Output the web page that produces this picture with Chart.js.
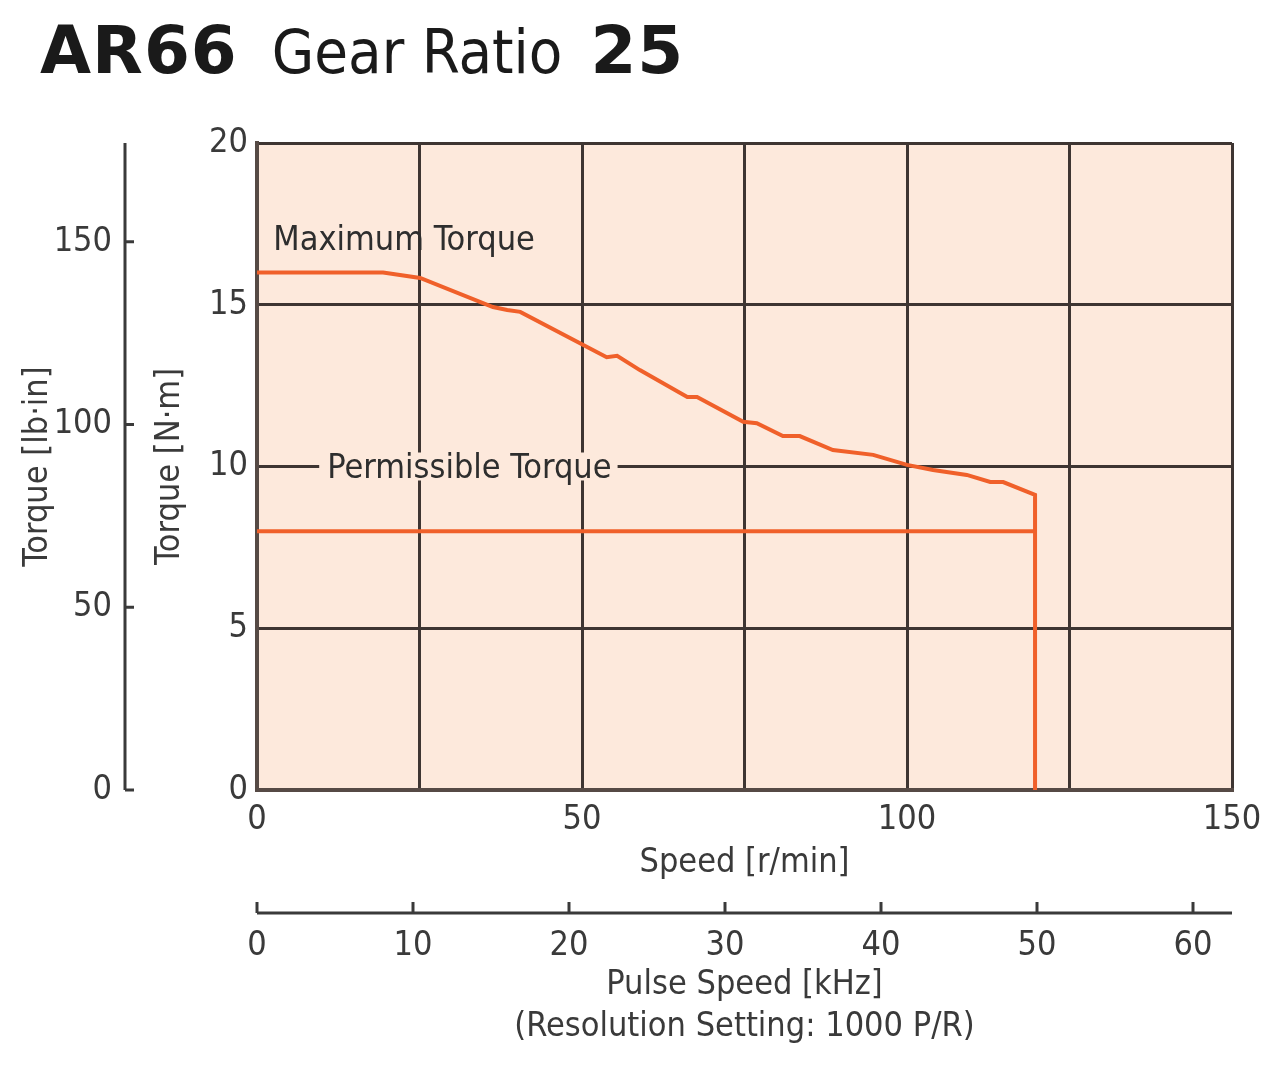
<!DOCTYPE html>
<html>
<head>
<meta charset="utf-8">
<script src="https://cdn.jsdelivr.net/npm/chart.js@4.4.1/dist/chart.umd.min.js"></script>
<style>
  html, body { margin: 0; padding: 0; background: #fff; }
  #wrap { position: relative; width: 1280px; height: 1069px; }
  #title { position: absolute; left: 40px; top: 12px; font-size: 66px; color: #1a1a1a; white-space: nowrap; }
  #title .b { font-family: "DejaVu Sans", sans-serif; font-weight: bold; letter-spacing: 1px; }
  #title .n { font-family: "Liberation Sans Narrow", "DejaVu Sans Condensed", sans-serif; font-size: 61px; margin: 0 28px 0 34px; }
  canvas { position: absolute; left: 0; top: 0; }
</style>
</head>
<body>
<div id="wrap">
  <div id="title"><span class="b">AR66</span><span class="n">Gear Ratio</span><span class="b">25</span></div>
  <canvas id="chart" width="1280" height="1069"></canvas>
</div>
<script>
// Données
const maxSpeed = [0, 19.4, 25.1, 36.3, 38.5, 40.5, 53.8, 55.4, 58.9, 66.2, 67.7, 74.8, 76.9, 80.9, 83.5, 88.6, 94.8, 100, 104, 109.2, 112.8, 114.8, 119.7, 119.7];
const maxTorque = [16.0, 16.0, 15.83, 14.93, 14.84, 14.78, 13.38, 13.42, 12.98, 12.15, 12.15, 11.38, 11.34, 10.94, 10.94, 10.51, 10.36, 10.05, 9.89, 9.74, 9.52, 9.52, 9.12, 0];
const permSpeed = [0, 119.7];
const permTorque = [8.0, 8.0];

const speedTicks = [0, 50, 100, 150];
const pulseTicks = [0, 10, 20, 30, 40, 50, 60];
const lbinTicks = [0, 50, 100, 150];
const NM_TO_LBIN = 8.851;

const orange = '#f0602a';
const gridColor = '#3e3532';
const borderColor = '#564a45';
const plotBg = '#fde9dc';
const textColor = '#3a3a3a';
const narrow = '"Liberation Sans Narrow", "DejaVu Sans Condensed", sans-serif';

const toPoints = (xs, ys) => xs.map((x, i) => ({ x: x, y: ys[i] }));

// Fond de la zone de tracé, axe lb-in, graduations de l'axe des impulsions et étiquettes
const decorations = {
  id: 'decorations',
  beforeDraw(chart) {
    const { ctx, chartArea } = chart;
    ctx.save();
    ctx.fillStyle = plotBg;
    ctx.fillRect(chartArea.left, chartArea.top, chartArea.right - chartArea.left, chartArea.bottom - chartArea.top);
    ctx.restore();
  },
  afterDraw(chart) {
    const { ctx, scales } = chart;
    ctx.save();
    ctx.strokeStyle = '#3a3a3a';
    ctx.lineWidth = 3;

    // axe lb-in
    const lb = scales.yLb;
    const lx = lb.right - 10;
    ctx.beginPath();
    ctx.moveTo(lx, lb.getPixelForValue(lb.max));
    ctx.lineTo(lx, lb.getPixelForValue(0));
    ctx.stroke();
    lbinTicks.forEach(v => {
      const py = lb.getPixelForValue(v);
      ctx.beginPath();
      ctx.moveTo(lx, py);
      ctx.lineTo(lx + 9, py);
      ctx.stroke();
    });

    // axe des impulsions
    const p = scales.x2;
    ctx.beginPath();
    ctx.moveTo(p.left, p.top);
    ctx.lineTo(scales.x.right, p.top);
    ctx.stroke();
    pulseTicks.forEach(v => {
      const px = p.getPixelForValue(v);
      ctx.beginPath();
      ctx.moveTo(px, p.top);
      ctx.lineTo(px, p.top - 11);
      ctx.stroke();
    });

    // étiquettes des courbes
    const x = scales.x, y = scales.y;
    ctx.font = '34px ' + narrow;
    ctx.textBaseline = 'middle';
    ctx.textAlign = 'left';
    ctx.fillStyle = '#2e2e2e';
    ctx.fillText('Maximum Torque', x.getPixelForValue(2.5), y.getPixelForValue(16.95));

    const label = 'Permissible Torque';
    const lx2 = x.getPixelForValue(10.8);
    const ly2 = y.getPixelForValue(10);
    const w = ctx.measureText(label).width;
    ctx.fillStyle = plotBg;
    ctx.fillRect(lx2 - 8, ly2 - 14, w + 14, 28);
    ctx.fillStyle = '#2e2e2e';
    ctx.fillText(label, lx2, ly2 + 3);
    ctx.restore();
  }
};

new Chart(document.getElementById('chart'), {
  type: 'line',
  data: {
    datasets: [
      {
        label: 'Maximum Torque',
        data: toPoints(maxSpeed, maxTorque),
        borderColor: orange,
        borderWidth: 4,
        pointRadius: 0,
        tension: 0,
        fill: false,
      },
      {
        label: 'Permissible Torque',
        data: toPoints(permSpeed, permTorque),
        borderColor: orange,
        borderWidth: 4,
        pointRadius: 0,
        fill: false,
      },
    ],
  },
  options: {
    responsive: false,
    animation: false,
    layout: { padding: { left: 0, top: 143, right: 48, bottom: 0 } },
    plugins: { legend: { display: false }, tooltip: { enabled: false } },
    scales: {
      x: {
        type: 'linear', position: 'bottom', min: 0, max: 150,
        afterBuildTicks: s => { s.ticks = [0, 25, 50, 75, 100, 125, 150].map(v => ({ value: v })); },
        afterFit: s => { s.height = 123; },
        ticks: {
          color: textColor, font: { family: narrow, size: 34 }, padding: 10, maxRotation: 0,
          callback: v => speedTicks.includes(v) ? String(v) : '',
        },
        grid: { color: gridColor, lineWidth: 3, drawTicks: false },
        border: { display: true, color: borderColor, width: 4 },
        title: { display: true, text: 'Speed [r/min]', color: textColor, font: { family: narrow, size: 34, lineHeight: 1.235 }, padding: { top: 0, bottom: 29 } },
      },
      x2: {
        type: 'linear', position: 'bottom', min: 0, max: 62.5,
        afterBuildTicks: s => { s.ticks = pulseTicks.map(v => ({ value: v })); },
        afterFit: s => { s.height = 156; },
        ticks: { color: textColor, font: { family: narrow, size: 34 }, padding: 5, maxRotation: 0 },
        grid: { display: false, drawOnChartArea: false },
        border: { display: false },
        title: { display: true, text: ['Pulse Speed [kHz]', '(Resolution Setting: 1000 P/R)'], color: textColor, font: { family: narrow, size: 34, lineHeight: 1.235 }, padding: { top: 0, bottom: 21 } },
      },
      y: {
        type: 'linear', position: 'left', min: 0, max: 20, weight: 0,
        afterBuildTicks: s => { s.ticks = [0, 5, 10, 15, 20].map(v => ({ value: v })); },
        afterFit: s => { s.width = 122; },
        ticks: { color: textColor, font: { family: narrow, size: 34 }, padding: 9 },
        grid: { color: gridColor, lineWidth: 3, drawTicks: false },
        border: { display: true, color: borderColor, width: 4 },
        title: { display: true, text: 'Torque [N·m]', color: textColor, font: { family: narrow, size: 34, lineHeight: 1.235 }, padding: { top: 14, bottom: 0 } },
      },
      yLb: {
        type: 'linear', position: 'left', min: 0, max: 20 * NM_TO_LBIN, weight: 1,
        afterBuildTicks: s => { s.ticks = lbinTicks.map(v => ({ value: v })); },
        afterFit: s => { s.width = 135; },
        ticks: { color: textColor, font: { family: narrow, size: 34 }, padding: 23 },
        grid: { display: false, drawOnChartArea: false, drawTicks: false },
        border: { display: false },
        title: { display: true, text: 'Torque [lb·in]', color: textColor, font: { family: narrow, size: 34, lineHeight: 1.235 }, padding: { top: 17, bottom: 0 } },
      },
    },
  },
  plugins: [decorations],
});
</script>
</body>
</html>
